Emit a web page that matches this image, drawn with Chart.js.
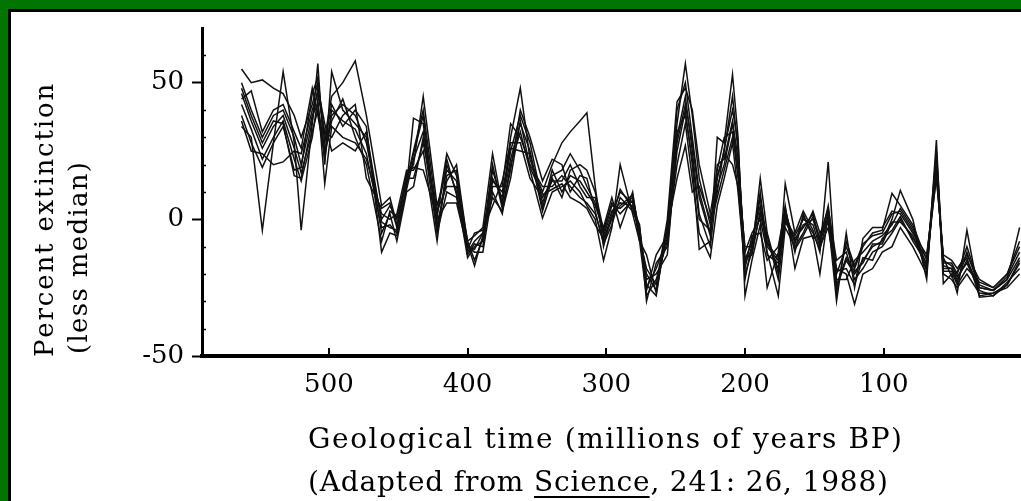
<!DOCTYPE html>
<html>
<head>
<meta charset="utf-8">
<title>Percent extinction (less median)</title>
<script src="https://cdn.jsdelivr.net/npm/chart.js@4.4.1/dist/chart.umd.min.js"></script>
<style>
    html, body { margin: 0; padding: 0; }
    body { width: 1021px; height: 501px; background: #027402; position: relative; overflow: hidden; }
    .panel { position: absolute; left: 8px; top: 9px; right: 0; bottom: 0; background: #fff; border-left: 3px solid #000; border-top: 3px solid #000; }
    #chart { position: absolute; left: 0; top: 0; }
</style>
</head>
<body>
<div class="panel"></div>
<canvas id="chart" width="1021" height="501"></canvas>
<script>
// ages (millions of years BP) shared by every curve
const ages = [563, 556, 548, 540, 533, 525, 520, 512, 508, 503, 498, 490, 481, 473, 462, 456, 451, 444, 439, 432,
    422, 415, 408, 400, 395, 389, 382, 375, 369, 362, 355, 346, 339, 332, 326, 319, 314, 308, 302, 296,
    290, 281, 276, 271, 264, 256, 249, 243, 238, 233, 225, 220, 215, 209, 205, 200, 195, 189, 184, 176,
    171, 164, 158, 151, 146, 140, 134, 127, 121, 115, 108, 101, 94, 88, 79, 69, 62, 57, 51, 47,
    40, 31, 21, 11, 2];

// percent extinction less median, one array per curve
const series1 = [55, 50, 51, 48, 46, 38, 30, 42, 50, 30, 45, 50, 58, 38, 5, 8, -2, 14, 25, 40,
    2, 24, 16, -8, -6, -3, 24, 5, 30, 48, 22, 10, 20, 28, 32, 36, 39, 12, -10, 2,
    10, 6, -6, -20, -26, -4, 40, 50, 30, 10, -5, 15, 25, 45, 25, -15, -8, 5, -10, -15,
    2, -8, -2, 0, -8, 5, -20, -10, -18, -10, -5, -4, 9.5, 5, -2, -15, 20, -18, -18, -22,
    -15, -25, -26, -22, -3];
const series2 = [34, 30, -4, 28, 54, 28, -4, 35, 57, 20, 54, 40, 35, 30, -5, 2, -8, 10, 12, 30,
    -5, 10, 8, -10, -12, -12, 10, 2, 20, 32, 18, 0.5, 10, 12, 14, 10, 5, 0, -15, -3,
    20, 2, -8, -28, -22, -8, 30, 45, 25, 2, -10, 12, 20, 35, 18, -20, -12, 15, -5, -20,
    13, -5, 3, -4, -12, 21, -25, -15, -20, -15, -10, -8, 0, 10.6, 0, -22, 29, -23.5, -20, -27,
    -4, -28.5, -28, -24, -15];
const series3 = [50, 40, 30, 38, 40, 30, 20, 38, 42, 25, 38, 42, 38, 28, 0, 5, 0, 16, 20, 45,
    5, 18, 14, -12, -8, -5, 15, 8, 25, 38, 28, 6, 16, 18, 24, 18, 12, 6, -5, 5,
    4, 8, -4, -24, -28, -2, 35, 57, 38, 15, -2, 8, 18, 30, 20, -12, -5, 0, -12, -28,
    -3, -10, -5, 3, -5, 0, -30, -5, -25, -7, -3, -3, 3, 2, -5, -13, 15, -13, -15, -18,
    -13, -22, -25, -20, -10];
const series4 = [46, 36, 26, 34, 38, 26, 17, 32, 40, 22, 40, 36, 33, 24, -3, -2, -5, 12, 37, 35,
    -2, 14, 20, -9, -17, -6, 12, 12, 35, 30, 20, 12, 12, 16, 12, 8, 6, 2, -8, 0,
    11, 4, -2, -30, -16, -10, 25, 40, 20, -11, -8, 30, 28, 53, 30, -28, -15, -2, -25, -12,
    5, -18, -7, -6, -20, 2, -18, -20, -31, -20, -18, -12, -10, -3, -10, -20, 22, -20, -22, -25,
    -20, -27, -27, -25, -20];
const series5 = [42, 33, 22, 30, 36, 22, 14, 30, 44, 13, 34, 30, 28, 22, 2, 0, 2, 18, 18, 25,
    -8, 20, 10, -14, -10, -8, 18, 6, 22, 35, 25, 4, 18, 10, 16, 14, 10, 5, -3, 8,
    -3, 10, -7, -18, -24, 0, 43, 48, 40, 20, 2, 18, 30, 32, 15, -10, -10, 8, -8, -18,
    0, -6, 0, -2, -10, -3, -22, -22, -15, -12, -8, -6, -2, 4, -3, -17, 25, -16, -16, -20,
    -10, -24, -26, -21, -12];
const series6 = [38, 28, 19, 28, 34, 18, 19, 46, 52, 28, 42, 34, 40, 34, -12, -5, -6, 11, 22, 32,
    0, 6, 6, -11, -5, -4, 5, 14, 28, 28, 15, 8, 14, 14, 20, 12, 8, 8, -6, 3,
    6, 5, -5, -26, -13, -6, 20, 35, 15, -5, -14, 5, 15, 28, 10, -18, -6, -5, -15, -10,
    4, -12, 2, -7, -6, 4, -15, -12, -22, -18, -12, -10, -5, 0, -7, -14, 18, -15, -17, -21,
    -16, -26, -28, -23, -18];
const series7 = [36, 25, 24, 20, 21, 25, 24, 40, 46, 32, 30, 38, 42, 15, 4, 6, -3, 15, 15, 28,
    3, 12, 12, -8, -15, -7, 20, 4, 18, 40, 30, 14, 22, 20, 10, 16, 15, 3, -9, -2,
    8, 3, -3, -22, -20, -13, 28, 42, 28, 8, -6, 20, 22, 36, 22, -14, -13, 3, -6, -22,
    -1, -7, -3, 2, -9, 3, -27, -8, -17, -9, -6, -5, 2, 3, -4, -19, 24, -19, -19, -24,
    -18, -23, -25, -20, -8];
const series8 = [44, 47, 32, 40, 42, 32, 26, 48, 38, 24, 36, 44, 30, 20, -8, 3, 1, 13, 24, 38,
    -4, 16, 18, -13, -9, -10, 14, 10, 26, 25, 24, 3, 15, 8, 18, 20, 18, 10, -4, 6,
    2, 7, -8, -13, -27, -3, 15, 27, 10, 12, 0, 10, 26, 40, 28, -22, -9, 10, -13, -16,
    3, -9, 1, -5, -11, 1, -19, -18, -24, -14, -15, -7, -4, 1, -8, -16, 16, -14, -21, -19,
    -14, -28, -27, -24, -16];
const series9 = [48, 38, 28, 36, 35, 16, 15, 36, 48, 35, 25, 28, 25, 32, -1, -3, -4, 17, 19, 18,
    1, 22, 9, -10, -11, -5, 8, 3, 15, 36, 19, 9, 11, 13, 8, 6, 4, -2, -7, 1,
    5, 9, -6, -25, -18, -7, 32, 38, 22, 0, -4, 16, 24, 20, 12, -16, -11, 2, -9, -14,
    1, -11, -6, 1, -7, -1, -24, -14, -19, -16, -9, -9, -1, -1, -6, -18, 21, -17, -18, -23,
    -12, -25, -26, -22, -14];

const allSeries = [series1, series2, series3, series4, series5, series6, series7, series8, series9];

// axis ticks
const xTicks = [500, 400, 300, 200, 100];
const yTicks = [50, 0, -50];
const yMinorTicks = [-40, -30, -20, -10, 10, 20, 30, 40, 60];

const yTitle = ['Percent extinction', '(less median)'];
const xTitle = ['Geological time (millions of years BP)'];
const sourceNote = ['(Adapted from ', 'Science', ', 241: 26, 1988)'];

const serif = '"DejaVu Serif", "Liberation Serif", serif';

// draws text parts one character at a time, spread to a given length;
// part number `underline` gets a rule under it
function spacedText(ctx, parts, x, y, length, underline) {
    const full = parts.join('');
    const natural = ctx.measureText(full).width;
    const gap = (length - natural) / (full.length - 1);
    let pos = x;
    parts.forEach((part, i) => {
        const start = pos;
        let end = pos;
        for (const ch of part) {
            ctx.fillText(ch, pos, y);
            end = pos + ctx.measureText(ch).width;
            pos = end + gap;
        }
        if (i === underline) {
            ctx.lineWidth = 2;
            ctx.beginPath();
            ctx.moveTo(start, y + 6);
            ctx.lineTo(end, y + 6);
            ctx.stroke();
        }
    });
}

const extras = {
    id: 'extras',
    afterDraw(chart) {
        const ctx = chart.ctx;
        const xs = chart.scales.x;
        const ys = chart.scales.y;
        ctx.save();
        ctx.strokeStyle = '#000';
        ctx.fillStyle = '#000';

        // x tick marks point up into the plot
        ctx.lineWidth = 2;
        xTicks.forEach(v => {
            const px = Math.round(xs.getPixelForValue(v));
            ctx.beginPath();
            ctx.moveTo(px, ys.bottom);
            ctx.lineTo(px, ys.bottom - 8);
            ctx.stroke();
        });

        // small minor ticks on the inside of the y axis
        ctx.lineWidth = 1.5;
        yMinorTicks.forEach(v => {
            const py = Math.round(ys.getPixelForValue(v)) + 0.5;
            ctx.beginPath();
            ctx.moveTo(xs.left, py);
            ctx.lineTo(xs.left + 4, py);
            ctx.stroke();
        });

        // y axis title, rotated, letter spaced
        ctx.font = '26px ' + serif;
        ctx.textAlign = 'left';
        ctx.textBaseline = 'alphabetic';
        ctx.save();
        ctx.translate(53, 357);
        ctx.rotate(-Math.PI / 2);
        spacedText(ctx, [yTitle[0]], 0, 0, 272, -1);
        ctx.restore();
        ctx.save();
        ctx.translate(87, 354);
        ctx.rotate(-Math.PI / 2);
        spacedText(ctx, [yTitle[1]], 0, 0, 192, -1);
        ctx.restore();

        // x axis title and source line
        ctx.font = '28px ' + serif;
        spacedText(ctx, xTitle, 308, 448, 594, -1);
        spacedText(ctx, sourceNote, 308, 491, 580, 1);
        ctx.restore();
    }
};

new Chart(document.getElementById('chart'), {
    type: 'line',
    data: {
        datasets: allSeries.map(s => ({
            data: ages.map((a, i) => ({ x: a, y: s[i] })),
            borderColor: '#111',
            borderWidth: 1.5,
            pointRadius: 0,
            tension: 0,
            fill: false
        }))
    },
    options: {
        responsive: false,
        animation: false,
        devicePixelRatio: 1,
        layout: { padding: { top: 28, right: 0, left: 0, bottom: 0 } },
        plugins: {
            legend: { display: false },
            tooltip: { enabled: false }
        },
        scales: {
            x: {
                type: 'linear',
                reverse: true,
                min: 1,
                max: 591.5,
                afterBuildTicks: s => { s.ticks = xTicks.map(v => ({ value: v })); },
                afterFit: s => { s.height = 145; },
                border: { display: true, color: '#000', width: 4 },
                grid: { drawOnChartArea: false, drawTicks: false },
                ticks: {
                    color: '#000',
                    padding: 14,
                    maxRotation: 0,
                    font: { family: serif, size: 26 }
                }
            },
            y: {
                min: -50,
                max: 70,
                afterBuildTicks: s => { s.ticks = yTicks.map(v => ({ value: v })); },
                afterFit: s => { s.width = 202; },
                border: { display: true, color: '#000', width: 3 },
                grid: { drawOnChartArea: false, color: '#000', tickLength: 10, tickWidth: 2 },
                ticks: {
                    color: '#000',
                    padding: 8,
                    font: { family: serif, size: 26 }
                }
            }
        }
    },
    plugins: [extras]
});
</script>
</body>
</html>
